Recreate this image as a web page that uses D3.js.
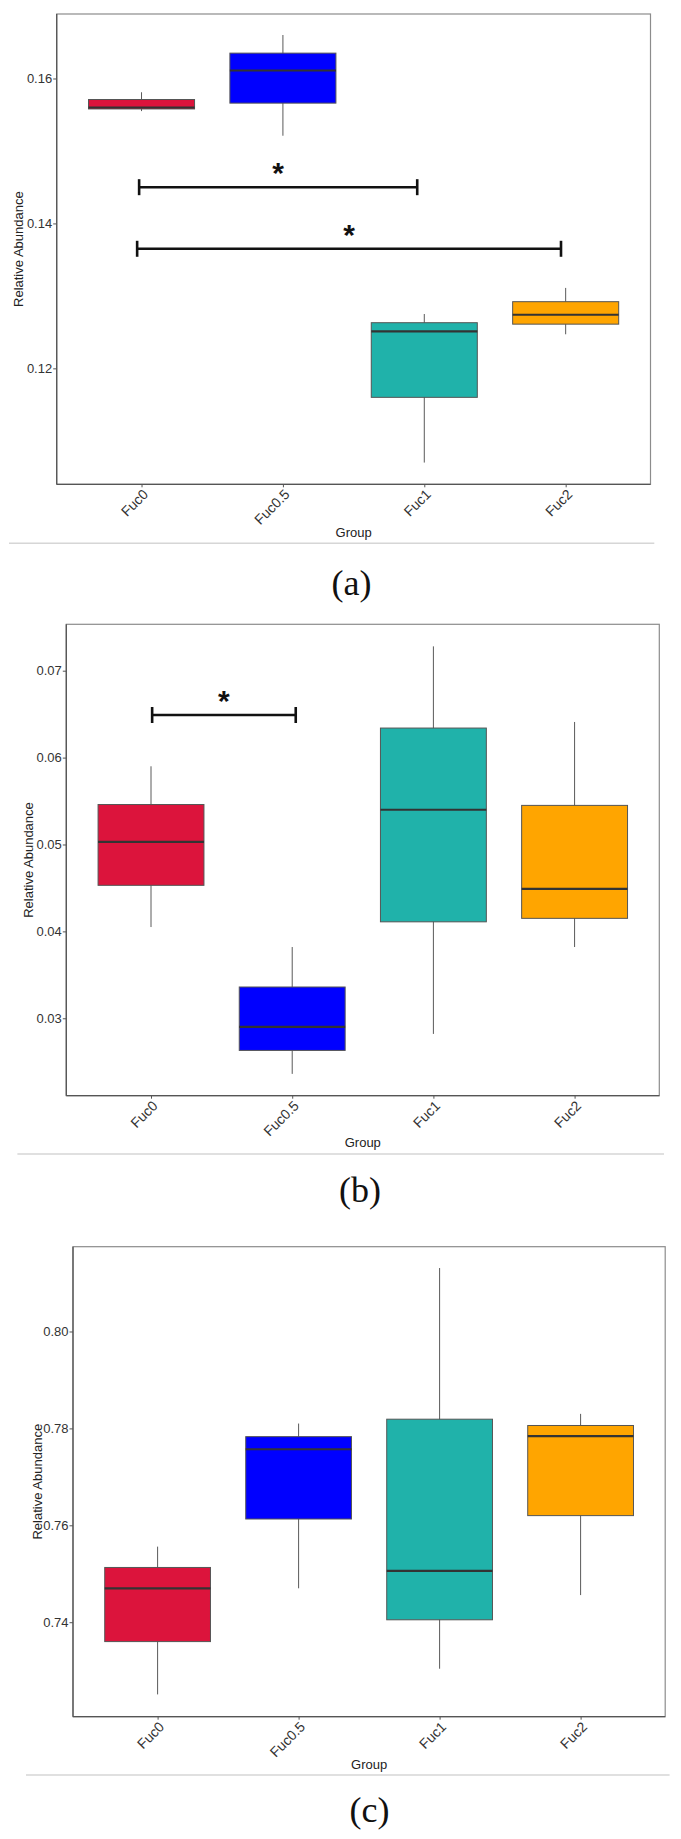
<!DOCTYPE html>
<html><head><meta charset="utf-8">
<script src="https://cdn.jsdelivr.net/npm/d3@7"></script>
<style>
html,body{margin:0;padding:0;background:#fff;}
svg{display:block;}
text{font-family:"Liberation Sans",Arial,Helvetica,sans-serif;}
</style></head>
<body>
<svg id="chart" width="681" height="1839"></svg>
<script>
// ---------- data ----------
const groups = ["Fuc0", "Fuc0.5", "Fuc1", "Fuc2"];
const groupColors = ["#DC143C", "#0000FF", "#20B2AA", "#FFA500"];

// Panel (a)
const aMin = [0.1555, 0.1521, 0.1070, 0.1247];
const aQ1  = [0.1558, 0.1566, 0.1160, 0.1261];
const aMed = [0.1560, 0.1611, 0.1251, 0.1274];
const aQ3  = [0.1571, 0.1635, 0.1263, 0.1292];
const aMax = [0.1581, 0.1660, 0.1275, 0.1311];
const aTicks = [0.12, 0.14, 0.16];
const aDomain = [0.104, 0.1689];
const aBrackets = [
  {from: 0.983, to: 2.950, y: 0.1450, label: "*"},
  {from: 0.969, to: 3.967, y: 0.1365, label: "*"}
];

// Panel (b)
const bMin = [0.0405, 0.0236, 0.0282, 0.0382];
const bQ1  = [0.0453, 0.0263, 0.0411, 0.0415];
const bMed = [0.0503, 0.0290, 0.0540, 0.0449];
const bQ3  = [0.0546, 0.0336, 0.0634, 0.0545];
const bMax = [0.0590, 0.0382, 0.0728, 0.0641];
const bTicks = [0.03, 0.04, 0.05, 0.06, 0.07];
const bDomain = [0.02109, 0.07534];
const bBrackets = [
  {from: 1.008, to: 2.025, y: 0.0649, label: "*"}
];

// Panel (c)
const cMin = [0.7251, 0.7470, 0.7304, 0.7456];
const cQ1  = [0.7360, 0.7613, 0.7405, 0.7620];
const cMed = [0.7470, 0.7757, 0.7506, 0.7784];
const cQ3  = [0.7513, 0.7783, 0.7819, 0.7806];
const cMax = [0.7556, 0.7810, 0.8131, 0.7830];
const cTicks = [0.74, 0.76, 0.78, 0.80];
const cDomain = [0.7205, 0.8175];
const cBrackets = [];

const panelLabels = ["(a)", "(b)", "(c)"];
const yTitle = "Relative Abundance";
const xTitle = "Group";

// ---------- layout ----------
const panels = [
  {min:aMin,q1:aQ1,med:aMed,q3:aQ3,max:aMax,ticks:aTicks,domain:aDomain,brackets:aBrackets,label:panelLabels[0],
   L:{left:56.7,right:650.5,top:14,bottom:484.3,titleX:23,groupY:537,sepY:543.3,sepX0:9,sepX1:654.3,labelY:595,labelX:351.5}},
  {min:bMin,q1:bQ1,med:bMed,q3:bQ3,max:bMax,ticks:bTicks,domain:bDomain,brackets:bBrackets,label:panelLabels[1],
   L:{left:66.3,right:659.3,top:624.3,bottom:1095.7,titleX:32.6,groupY:1147,sepY:1154,sepX0:17.4,sepX1:664,labelY:1201.7,labelX:360}},
  {min:cMin,q1:cQ1,med:cMed,q3:cQ3,max:cMax,ticks:cTicks,domain:cDomain,brackets:cBrackets,label:panelLabels[2],
   L:{left:73,right:665.2,top:1246.7,bottom:1716.7,titleX:42,groupY:1769,sepY:1775,sepX0:26,sepX1:669.6,labelY:1821.7,labelX:369.6}}
];

const svg = d3.select("#chart");
svg.append("rect").attr("width",681).attr("height",1839).attr("fill","#fff");

panels.forEach(p => {
  const L = p.L;
  const g = svg.append("g");
  const x = d3.scaleLinear().domain([0.4, 4.6]).range([L.left, L.right]);
  const y = d3.scaleLinear().domain(p.domain).range([L.bottom, L.top]);
  const bw = x(0.75) - x(0);

  // frame
  g.append("rect").attr("x",L.left).attr("y",L.top)
    .attr("width",L.right-L.left).attr("height",L.bottom-L.top)
    .attr("fill","none").attr("stroke","#8c8c8c").attr("stroke-width",1.2);

  const boxes = groups.map((name,i)=>({name,i,pos:i+1,min:p.min[i],q1:p.q1[i],med:p.med[i],q3:p.q3[i],max:p.max[i],color:groupColors[i]}));

  // whiskers
  g.selectAll(".wh").data(boxes).enter().append("line")
    .attr("x1",d=>x(d.pos)).attr("x2",d=>x(d.pos))
    .attr("y1",d=>y(d.max)).attr("y2",d=>y(d.min))
    .attr("stroke","#5a5a5a").attr("stroke-width",1);
  // boxes
  g.selectAll(".bx").data(boxes).enter().append("rect")
    .attr("x",d=>x(d.pos)-bw/2).attr("width",bw)
    .attr("y",d=>y(d.q3)).attr("height",d=>y(d.q1)-y(d.q3))
    .attr("fill",d=>d.color).attr("stroke","#555").attr("stroke-width",1);
  // medians
  g.selectAll(".md").data(boxes).enter().append("line")
    .attr("x1",d=>x(d.pos)-bw/2).attr("x2",d=>x(d.pos)+bw/2)
    .attr("y1",d=>y(d.med)).attr("y2",d=>y(d.med))
    .attr("stroke","#333").attr("stroke-width",2.2);

  // brackets
  p.brackets.forEach(b=>{
    const x0=x(b.from), x1=x(b.to), yy=y(b.y);
    g.append("line").attr("x1",x0).attr("x2",x1).attr("y1",yy).attr("y2",yy)
      .attr("stroke","#111").attr("stroke-width",2.6);
    [x0,x1].forEach(xx=>g.append("line").attr("x1",xx).attr("x2",xx).attr("y1",yy-8).attr("y2",yy+8)
      .attr("stroke","#111").attr("stroke-width",2.6));
    g.append("text").attr("x",(x0+x1)/2).attr("y",yy-18+14)
      .attr("text-anchor","middle").attr("font-size",30).attr("font-weight","bold").attr("fill","#111")
      .text(b.label);
  });

  // y axis
  const ya = g.append("g").attr("transform",`translate(${L.left},0)`)
    .call(d3.axisLeft(y).tickValues(p.ticks).tickSize(3.5).tickPadding(1).tickFormat(d3.format(".2f")));
  ya.select(".domain").remove();
  ya.selectAll(".tick line").attr("stroke","#555");
  ya.selectAll(".tick text").attr("font-size",13).attr("fill","#333")
    .style("font-family",'"Liberation Sans",Arial,sans-serif');

  // x axis
  const xa = g.append("g").attr("transform",`translate(0,${L.bottom})`)
    .call(d3.axisBottom(x).tickValues([1,2,3,4]).tickSize(3).tickFormat(d=>groups[d-1]));
  xa.select(".domain").remove();
  xa.selectAll(".tick line").attr("stroke","#555");
  xa.selectAll(".tick text").attr("x",0).attr("y",0).attr("dy",0)
    .attr("text-anchor","end").attr("transform","translate(7,11) rotate(-45)")
    .attr("font-size",14).attr("fill","#333")
    .style("font-family",'"Liberation Sans",Arial,sans-serif');

  // left & bottom axis lines (darker)
  g.append("line").attr("x1",L.left).attr("x2",L.right).attr("y1",L.bottom).attr("y2",L.bottom)
    .attr("stroke","#555").attr("stroke-width",1.3);
  g.append("line").attr("x1",L.left).attr("x2",L.left).attr("y1",L.top).attr("y2",L.bottom)
    .attr("stroke","#555").attr("stroke-width",1.3);

  // titles
  g.append("text").attr("transform",`translate(${L.titleX},${(L.top+L.bottom)/2}) rotate(-90)`)
    .attr("text-anchor","middle").attr("font-size",13).attr("fill","#222").text(yTitle);
  g.append("text").attr("x",(L.left+L.right)/2).attr("y",L.groupY)
    .attr("text-anchor","middle").attr("font-size",13).attr("fill","#222").text(xTitle);

  // separator
  g.append("line").attr("x1",L.sepX0).attr("x2",L.sepX1).attr("y1",L.sepY).attr("y2",L.sepY)
    .attr("stroke","#d6d6d6").attr("stroke-width",1.5);

  // panel label
  g.append("text").attr("x",L.labelX).attr("y",L.labelY).attr("text-anchor","middle")
    .attr("font-size",36).attr("fill","#111")
    .style("font-family",'"Liberation Serif","Times New Roman",serif').text(p.label);
});
</script>
</body></html>
